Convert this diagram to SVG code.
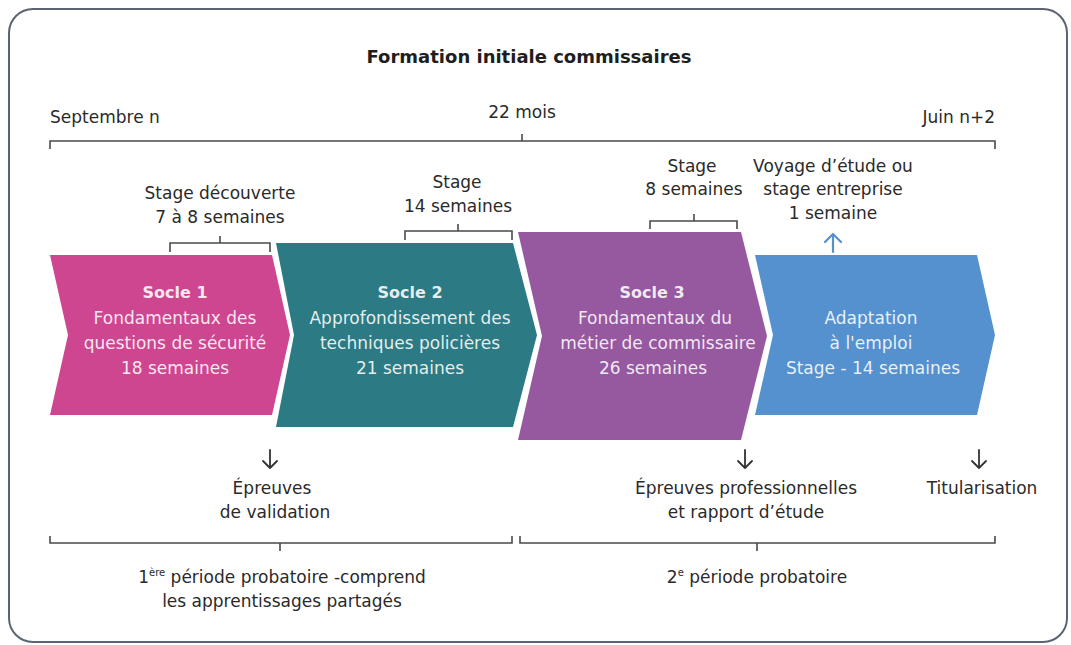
<svg xmlns="http://www.w3.org/2000/svg" width="1071" height="645" viewBox="0 0 1071 645">
<style>
  text { font-family: "DejaVu Sans", "Liberation Sans", sans-serif; font-size: 17px; fill: #2a2a2a; text-anchor: middle; }
  .title { font-size: 18px; font-weight: bold; fill: #1e1e1e; }
  .in { fill: #ffffff; fill-opacity: 0.88; }
  .bold { font-weight: bold; font-size: 16px; }
  .ln { fill: none; stroke: #4a4a4a; stroke-width: 1.6; }
  .arr { fill: none; stroke: #333; stroke-width: 1.8; stroke-linecap: round; stroke-linejoin: round; }
  .barr { fill: none; stroke: #5591CE; stroke-width: 2.2; stroke-linecap: round; stroke-linejoin: round; }
  .start { text-anchor: start; }
  .end { text-anchor: end; }
</style>
<rect x="0" y="0" width="1071" height="645" fill="#ffffff"/>
<rect x="9" y="9" width="1058" height="633" rx="24" ry="24" fill="none" stroke="#5b6472" stroke-width="2"/>

<g id="title">
  <text class="title" x="529" y="63">Formation initiale commissaires</text>
</g>

<g id="timeline">
  <text class="start" x="50" y="123">Septembre n</text>
  <text x="522" y="118">22 mois</text>
  <text class="end" x="995" y="123">Juin n+2</text>
</g>

<g id="socle1">
  <path d="M50,255 L272,255 L290,335 L272,415 L50,415 L68,335 Z" fill="#CF4690"/>
  <text class="in bold" x="175" y="298">Socle 1</text>
  <text class="in" x="175" y="324">Fondamentaux des</text>
  <text class="in" x="175" y="349">questions de sécurité</text>
  <text class="in" x="175" y="374">18 semaines</text>
</g>

<g id="socle2">
  <path d="M276,243 L513,243 L537,335 L513,427 L276,427 L294,335 Z" fill="#2C7A83"/>
  <text class="in bold" x="410" y="298">Socle 2</text>
  <text class="in" x="410" y="324">Approfondissement des</text>
  <text class="in" x="410" y="349">techniques policières</text>
  <text class="in" x="410" y="374">21 semaines</text>
</g>

<g id="socle3">
  <path d="M518,232 L741,232 L767,336 L741,440 L518,440 L542,336 Z" fill="#96589F"/>
  <text class="in bold" x="652" y="298">Socle 3</text>
  <text class="in" x="655" y="324">Fondamentaux du</text>
  <text class="in" x="658" y="349">métier de commissaire</text>
  <text class="in" x="653" y="374">26 semaines</text>
</g>

<g id="adaptation">
  <path d="M755,255 L977,255 L995,335 L977,415 L755,415 L773,335 Z" fill="#5591CE"/>
  <text class="in" x="871" y="324">Adaptation</text>
  <text class="in" x="871" y="349">à l'emploi</text>
  <text class="in" x="873" y="374">Stage - 14 semaines</text>
</g>

<g id="stage-decouverte">
  <text x="220" y="199">Stage découverte</text>
  <text x="220" y="223">7 à 8 semaines</text>
</g>
<g id="stage-14">
  <text x="457" y="188">Stage</text>
  <text x="458" y="212">14 semaines</text>
</g>
<g id="stage-8">
  <text x="692" y="172">Stage</text>
  <text x="694" y="195">8 semaines</text>
</g>
<g id="voyage">
  <text x="833" y="172">Voyage d’étude ou</text>
  <text x="833" y="195">stage entreprise</text>
  <text x="833" y="219">1 semaine</text>
</g>

<g id="epreuves-validation">
  <text x="272" y="494">Épreuves</text>
  <text x="275" y="518">de validation</text>
</g>
<g id="epreuves-pro">
  <text x="746" y="494">Épreuves professionnelles</text>
  <text x="746" y="518">et rapport d’étude</text>
</g>
<g id="titularisation">
  <text x="982" y="494">Titularisation</text>
</g>

<g id="periode1">
  <text x="282" y="583">1<tspan font-size="10" dy="-7">ère</tspan><tspan dy="7"> période probatoire -comprend</tspan></text>
  <text x="282" y="607">les apprentissages partagés</text>
</g>
<g id="periode2">
  <text x="757" y="583">2<tspan font-size="10" dy="-7">e</tspan><tspan dy="7"> période probatoire</tspan></text>
</g>

<g id="connectors">
  <path class="ln" d="M50,149 V141 H995 V149 M522,141 V134"/>
  <path class="ln" d="M170,252 V243 H270 V252 M220,243 V236"/>
  <path class="ln" d="M405,240 V231 H512 V240 M458,231 V224"/>
  <path class="ln" d="M650,229 V221 H737 V229 M694,221 V214"/>
  <path class="ln" d="M50,536 V543 H512 V536 M280,543 V551"/>
  <path class="ln" d="M520,536 V543 H995 V536 M757,543 V551"/>
  <path class="barr" d="M833,252 V234 M825,242 L833,234 L841,242"/>
  <path class="arr" d="M270,450 V468 M263,461 L270,468 L277,461"/>
  <path class="arr" d="M745,450 V468 M738,461 L745,468 L752,461"/>
  <path class="arr" d="M979,450 V468 M972,461 L979,468 L986,461"/>
</g>
</svg>
